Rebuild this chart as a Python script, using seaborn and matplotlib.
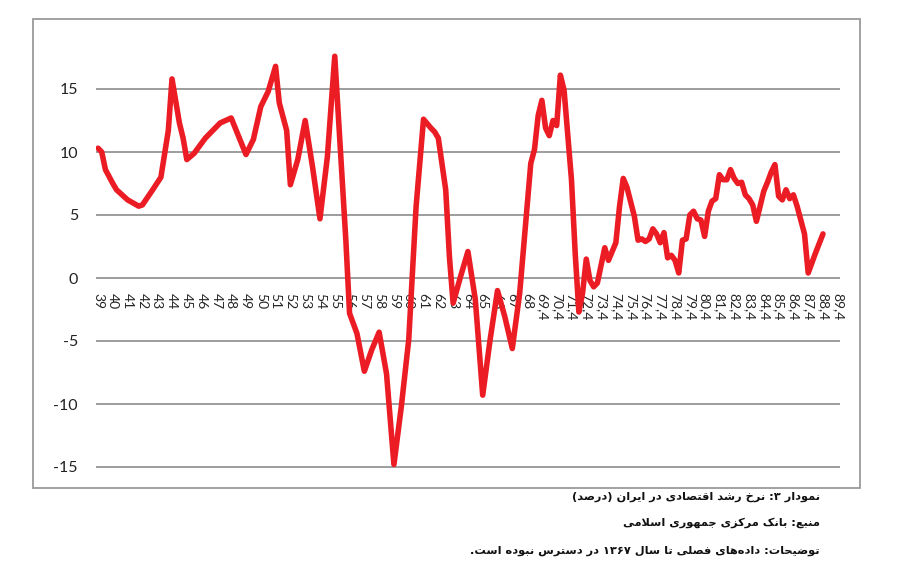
import re
import numpy as np
import pandas as pd
import matplotlib
matplotlib.use('Agg')
import matplotlib.pyplot as plt
import seaborn as sns
from matplotlib.patches import Rectangle

# quarter index (0 = year 39) and growth rate (%)
quarter = [0, 1, 2, 4, 5, 8, 11, 12, 15, 17, 19, 20, 22, 23, 24, 26, 28, 29, 32, 33,
           36, 40, 42, 44, 46, 48, 49, 51, 52, 54, 56, 58, 60, 62, 64, 66, 67, 68, 70, 72,
           74, 76, 78, 80, 82, 84, 85, 86, 88, 90, 91, 92, 94, 95, 96, 98, 100, 102, 104, 106,
           108, 110, 112, 114, 116, 117, 118, 119, 120, 121, 122, 123, 124, 125, 126, 128, 129, 130, 131, 132,
           133, 134, 135, 137, 138, 140, 141, 142, 143, 145, 146, 147, 148, 149, 150, 151, 152, 153, 154, 155,
           156, 157, 158, 159, 160, 161, 162, 163, 164, 165, 166, 167, 168, 169, 170, 171, 172, 173, 174, 175,
           176, 177, 178, 179, 180, 181, 182, 183, 184, 185, 186, 187, 188, 189, 191, 192, 194, 196]
growth = [10.3, 10.0, 8.6, 7.5, 7.0, 6.2, 5.7, 5.8, 7.1, 8.0, 11.7, 15.8, 12.3, 11.1, 9.4, 9.9, 10.7, 11.1, 12.0, 12.3,
          12.7, 9.8, 11.0, 13.6, 14.8, 16.8, 13.9, 11.7, 7.4, 9.4, 12.5, 8.8, 4.7, 9.6, 17.6, 7.8, 3.0, -2.8, -4.4, -7.4,
          -5.7, -4.3, -7.6, -14.8, -10.2, -4.9, 0.4, 5.7, 12.6, 11.9, 11.6, 11.1, 7.0, 1.7, -2.0, 0.1, 2.1, -1.7, -9.3, -4.9,
          -1.0, -3.1, -5.6, -1.2, 5.7, 9.1, 10.2, 12.9, 14.1, 11.9, 11.3, 12.5, 12.1, 16.1, 14.9, 7.8, 2.0, -2.7, -1.2, 1.5,
          -0.2, -0.7, -0.4, 2.4, 1.4, 2.8, 5.7, 7.9, 7.2, 4.9, 3.0, 3.1, 2.9, 3.1, 3.9, 3.5, 2.8, 3.6, 1.6, 1.8,
          1.4, 0.4, 3.0, 3.1, 5.0, 5.3, 4.7, 4.6, 3.3, 5.3, 6.1, 6.3, 8.2, 7.8, 7.8, 8.6, 7.9, 7.5, 7.6, 6.6,
          6.3, 5.8, 4.5, 5.7, 6.9, 7.6, 8.4, 9.0, 6.5, 6.2, 7.0, 6.3, 6.6, 5.7, 3.5, 0.4, 2.0, 3.5]

x_labels = ['39', '40', '41', '42', '43', '44', '45', '46', '47', '48', '49', '50', '51', '52', '53',
            '54', '55', '56', '57', '58', '59', '60', '61', '62', '63', '64', '65', '66', '67', '68',
            '69,4', '70,4', '71,4', '72,4', '73,4', '74,4', '75,4', '76,4', '77,4', '78,4', '79,4',
            '80,4', '81,4', '82,4', '83,4', '84,4', '85,4', '86,4', '87,4', '88,4', '89,4']
y_ticks = [-15, -10, -5, 0, 5, 10, 15]

notes = ['نمودار ۳: نرخ رشد اقتصادی در ایران (درصد)',
         'منبع: بانک مرکزی جمهوری اسلامی',
         'توضیحات: داده\u200cهای فصلی تا سال ۱۳۶۷ در دسترس نبوده است.']

# contextual forms: isolated, final, initial, medial
def _f(a, b, c=None, d=None):
    return tuple(chr(v) if v else None for v in (a, b, c, d))

FORMS = {
    'ا': _f(0xFE8D, 0xFE8E), 'آ': _f(0xFE81, 0xFE82),
    'ب': _f(0xFE8F, 0xFE90, 0xFE91, 0xFE92), 'پ': _f(0xFB56, 0xFB57, 0xFB58, 0xFB59),
    'ت': _f(0xFE95, 0xFE96, 0xFE97, 0xFE98), 'ث': _f(0xFE99, 0xFE9A, 0xFE9B, 0xFE9C),
    'ج': _f(0xFE9D, 0xFE9E, 0xFE9F, 0xFEA0), 'چ': _f(0xFB7A, 0xFB7B, 0xFB7C, 0xFB7D),
    'ح': _f(0xFEA1, 0xFEA2, 0xFEA3, 0xFEA4), 'خ': _f(0xFEA5, 0xFEA6, 0xFEA7, 0xFEA8),
    'د': _f(0xFEA9, 0xFEAA), 'ذ': _f(0xFEAB, 0xFEAC), 'ر': _f(0xFEAD, 0xFEAE),
    'ز': _f(0xFEAF, 0xFEB0), 'ژ': _f(0xFB8A, 0xFB8B),
    'س': _f(0xFEB1, 0xFEB2, 0xFEB3, 0xFEB4), 'ش': _f(0xFEB5, 0xFEB6, 0xFEB7, 0xFEB8),
    'ص': _f(0xFEB9, 0xFEBA, 0xFEBB, 0xFEBC), 'ض': _f(0xFEBD, 0xFEBE, 0xFEBF, 0xFEC0),
    'ط': _f(0xFEC1, 0xFEC2, 0xFEC3, 0xFEC4), 'ظ': _f(0xFEC5, 0xFEC6, 0xFEC7, 0xFEC8),
    'ع': _f(0xFEC9, 0xFECA, 0xFECB, 0xFECC), 'غ': _f(0xFECD, 0xFECE, 0xFECF, 0xFED0),
    'ف': _f(0xFED1, 0xFED2, 0xFED3, 0xFED4), 'ق': _f(0xFED5, 0xFED6, 0xFED7, 0xFED8),
    'ک': _f(0xFB8E, 0xFB8F, 0xFB90, 0xFB91), 'گ': _f(0xFB92, 0xFB93, 0xFB94, 0xFB95),
    'ل': _f(0xFEDD, 0xFEDE, 0xFEDF, 0xFEE0), 'م': _f(0xFEE1, 0xFEE2, 0xFEE3, 0xFEE4),
    'ن': _f(0xFEE5, 0xFEE6, 0xFEE7, 0xFEE8), 'و': _f(0xFEED, 0xFEEE),
    'ه': _f(0xFEE9, 0xFEEA, 0xFEEB, 0xFEEC), 'ی': _f(0xFBFC, 0xFBFD, 0xFBFE, 0xFBFF),
}


def persian(s):
    # join letters and put them in visual (left to right) order
    out = []
    i = 0
    while i < len(s):
        c = s[i]
        if c not in FORMS:
            if c != '\u200c':
                out.append(c)
            i += 1
            continue
        prev = s[i - 1] if i > 0 else ''
        lp = prev in FORMS and FORMS[prev][2] is not None
        if c == 'ل' and i + 1 < len(s) and s[i + 1] == 'ا':
            out.append('\uFEFC' if lp else '\uFEFB')
            i += 2
            continue
        nxt = s[i + 1] if i + 1 < len(s) else ''
        ln = FORMS[c][2] is not None and nxt in FORMS
        iso, fin, ini, med = FORMS[c]
        out.append(med if lp and ln else fin if lp else ini if ln else iso)
        i += 1
    tokens = re.findall(r'[0-9\u06F0-\u06F9]+|.', ''.join(out))
    return ''.join(reversed(tokens)).translate(str.maketrans('()', ')('))


sns.set_style('white')
plt.rcParams['font.family'] = ['Lato', 'DejaVu Sans']
plt.rcParams['axes.unicode_minus'] = False

df = pd.DataFrame({'quarter': quarter, 'growth': growth})

fig = plt.figure(figsize=(9, 5.87), dpi=100)
ax = fig.add_axes([96 / 900, 1 - 473.3 / 587, 744 / 900, 447.3 / 587])

sns.lineplot(data=df, x='quarter', y='growth', ax=ax, color='#ec1c24',
             linewidth=4, solid_joinstyle='round', solid_capstyle='round', zorder=3)

ax.set_xlim(-0.55, 200.6)
ax.set_ylim(-15.5, 20)
ax.set_yticks(y_ticks)
ax.set_yticklabels([str(v) for v in y_ticks], fontsize=11.5, color='#222222')
ax.set_xticks(np.arange(0, 4 * len(x_labels), 4))
ax.set_xticklabels(x_labels, fontsize=8.8, color='#222222')
ax.spines['bottom'].set_position(('data', 0))
for sp in ax.spines.values():
    sp.set_visible(False)
ax.tick_params(axis='x', length=0, pad=11, labelrotation=270)
ax.tick_params(axis='y', length=0, pad=13)
ax.grid(axis='y', color='#8c8c8c', linewidth=1.2)
ax.grid(axis='x', visible=False)
ax.set_xlabel('')
ax.set_ylabel('')

fig.add_artist(Rectangle((33 / 900, 1 - 488 / 587), 827 / 900, 469 / 587,
                         transform=fig.transFigure, fill=False,
                         edgecolor='#9a9a9a', linewidth=1.3))

for line, ypx in zip(notes, [497, 523, 551]):
    fig.text(820 / 900, 1 - ypx / 587, persian(line), ha='right', va='center',
             fontsize=8.2, fontweight='bold', family=['DejaVu Sans'], color='#111111')

fig.savefig('out.png', dpi=100)
